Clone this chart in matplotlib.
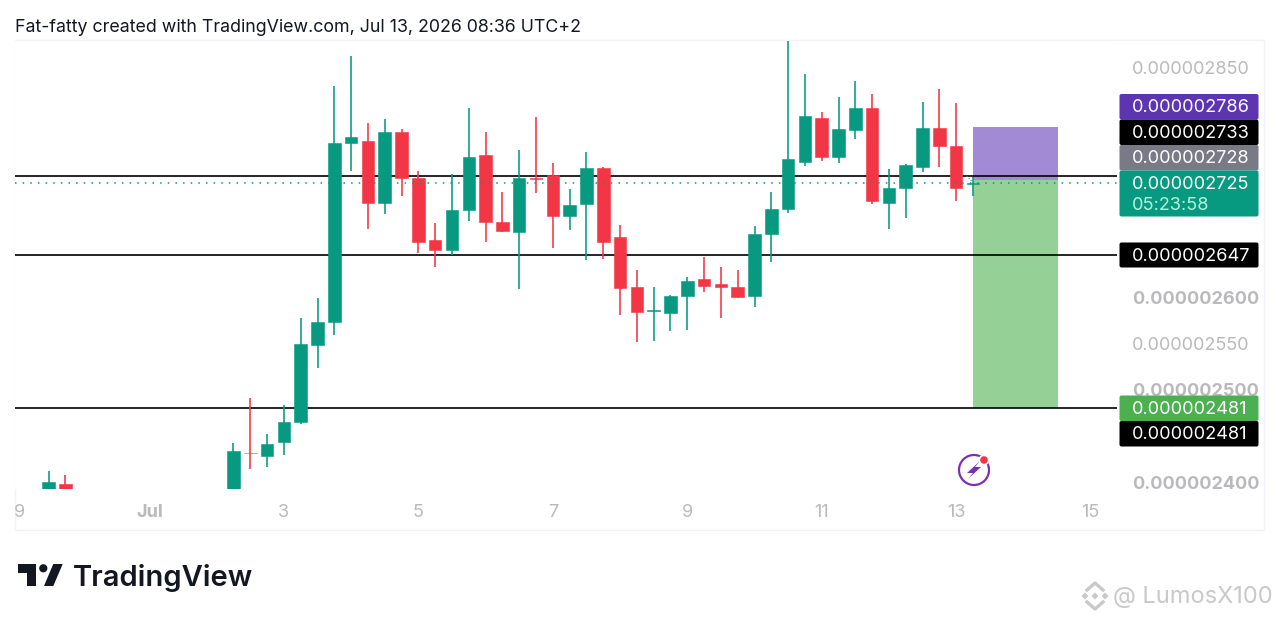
import matplotlib
matplotlib.use('Agg')
import matplotlib.pyplot as plt
import numpy as np
from matplotlib.patches import Rectangle, FancyBboxPatch, Circle, Polygon, Arc
from matplotlib.lines import Line2D
from matplotlib.transforms import Affine2D, Bbox

plt.rcParams['font.family'] = ['Inter', 'DejaVu Sans']

# prices are in units of 1e-9, candles are 6h so 4 per day
candle_index = [0, 1, 9] + list(range(11, 56))
opens = [2385.9, 2398.2, 2385.0, 2386.0, 2431.9, 2428.3, 2443.2, 2464.9, 2549.2, 2573.9, 2768.2, 2771.0,
         2703.6, 2780.5, 2730.8, 2662.7, 2652.2, 2696.0, 2755.4, 2683.0, 2671.8, 2730.0, 2734.0, 2689.1,
         2702.2, 2741.0, 2666.6, 2611.6, 2585.4, 2583.7, 2602.5, 2620.3, 2615.6, 2611.6, 2602.5, 2669.9,
         2697.1, 2748.2, 2796.0, 2752.9, 2783.0, 2806.9, 2703.6, 2719.9, 2742.7, 2785.1, 2765.2, 2723.8]
closes = [2400.3, 2385.9, 2388.0, 2434.0, 2431.1, 2441.3, 2464.9, 2550.3, 2573.9, 2768.8, 2774.7, 2703.3,
          2780.1, 2730.8, 2660.9, 2651.9, 2696.0, 2753.3, 2683.0, 2672.5, 2730.4, 2728.8, 2689.1, 2700.8,
          2741.0, 2660.9, 2610.9, 2584.8, 2586.4, 2602.5, 2618.8, 2613.4, 2611.6, 2601.4, 2669.9, 2697.1,
          2750.8, 2798.2, 2752.9, 2784.0, 2806.9, 2705.8, 2719.9, 2744.9, 2785.1, 2765.2, 2719.9, 2725.0]
highs = [2412.3, 2407.3, 2392.8, 2442.4, 2491.0, 2452.2, 2483.4, 2578.6, 2600.3, 2830.5, 2862.7, 2789.9,
         2794.9, 2783.4, 2737.7, 2681.9, 2735.1, 2806.2, 2780.1, 2714.9, 2761.2, 2797.1, 2747.1, 2718.8,
         2759.0, 2742.1, 2679.7, 2630.8, 2611.6, 2603.6, 2622.5, 2644.2, 2633.7, 2630.8, 2678.3, 2714.9,
         2885.0, 2843.5, 2801.9, 2818.5, 2835.6, 2822.1, 2739.9, 2746.0, 2813.4, 2826.9, 2811.6, 2731.9]
lows = [2380.0, 2380.0, 2380.0, 2380.0, 2414.5, 2416.6, 2429.7, 2463.4, 2524.2, 2560.1, 2738.4, 2675.3,
        2691.6, 2711.2, 2649.3, 2633.4, 2646.4, 2683.7, 2661.2, 2672.2, 2610.1, 2714.5, 2654.4, 2673.9,
        2641.3, 2642.1, 2581.2, 2552.2, 2552.9, 2564.1, 2564.9, 2606.2, 2577.9, 2600.3, 2589.9, 2639.5,
        2692.1, 2743.2, 2748.6, 2746.4, 2772.5, 2702.5, 2675.3, 2687.3, 2736.6, 2742.7, 2705.1, 2711.2]

level_lines = [2733, 2647, 2480.6]
last_price = 2725
box_top = 2786
box_mid = 2728
box_stop = 2480.6
box_days = [13.245, 14.52]

x_tick_days = [-1, 1, 3, 5, 7, 9, 11, 13, 15]
x_tick_labels = ['29', 'Jul', '3', '5', '7', '9', '11', '13', '15']
y_ticks = [2400, 2500, 2550, 2600, 2850]
y_bold = [2400, 2500, 2600]

tag_labels = ['0.000002786', '0.000002733', '0.000002728', '0.000002725', '0.000002647', '0.000002481', '0.000002481']
tag_colors = ['#5E35B1', '#000000', '#787B86', '#089981', '#000000', '#4CAF50', '#000000']
tag_tops = [94, 119.5, 145, 170.5, 242.5, 395.5, 421]
tag_bottoms = [119.5, 145, 170.5, 216.5, 267.5, 421, 446.5]
countdown = '05:23:58'

GREEN = '#089981'
RED = '#F23645'
GREY = '#BABABD'

fig = plt.figure(figsize=(12.8, 6.21), dpi=100)
ax = fig.add_axes([15 / 1280, 1 - 489 / 621, 1102 / 1280, 448 / 621])

# overlay coords: image pixels, y going down
px = Affine2D().scale(1, -1).translate(0, 621)

days = 3 + (np.array(candle_index) - 14) * 0.25
opens = np.array(opens)
closes = np.array(closes)
colors = [GREEN if c >= o else RED for o, c in zip(opens, closes)]

ax.add_patch(Rectangle((box_days[0], box_mid), box_days[1] - box_days[0], box_top - box_mid,
                       fc='#A28AD4', ec='none', zorder=1))
ax.add_patch(Rectangle((box_days[0], box_stop), box_days[1] - box_days[0], box_mid - box_stop,
                       fc='#95D196', ec='none', zorder=1))

for lv in level_lines:
    ax.axhline(lv, color='black', lw=1.2, zorder=2)

ax.vlines(days, lows, highs, colors=colors, lw=1.15, zorder=3)
ax.bar(days, np.abs(closes - opens), bottom=np.minimum(opens, closes), width=0.187,
       color=colors, edgecolor=colors, lw=0.4, zorder=3)

ax.axhline(last_price, color=GREEN, lw=1.1, ls=(0, (1, 4)), zorder=4)

ax.set_xlim(-0.983, 15.392)
ax.set_ylim(2392.4, 2879.3)
for s in ax.spines.values():
    s.set_visible(False)

ax.set_xticks(x_tick_days)
ax.set_xticklabels(x_tick_labels)
ax.tick_params(axis='x', length=0, pad=11, labelsize=13, labelcolor=GREY)
frame_box = Bbox([[15, 0], [1280, 621]])
for lab in ax.get_xticklabels():
    lab.set_clip_on(True)
    lab.set_clip_box(frame_box)
for i, lab in enumerate(ax.get_xticklabels()):
    if x_tick_labels[i] == 'Jul':
        lab.set_fontweight('bold')

ax.yaxis.tick_right()
ax.set_yticks(y_ticks)
ax.set_yticklabels(['%.9f' % (v * 1e-9) for v in y_ticks])
ax.tick_params(axis='y', length=0, pad=11, labelsize=13, labelcolor=GREY)
for v, lab in zip(y_ticks, ax.get_yticklabels()):
    if v in y_bold:
        lab.set_fontweight('bold')

# outer frame
fig.add_artist(Rectangle((15, 40), 1249, 490, fill=False, ec='#F0F3FA', lw=1, transform=px, zorder=-1))

# price tags
for name, col, top, bot in zip(tag_labels, tag_colors, tag_tops, tag_bottoms):
    fig.add_artist(FancyBboxPatch((1119.5, top), 139, bot - top, boxstyle='round,pad=0,rounding_size=2',
                                  fc=col, ec='none', transform=px, zorder=5))
    fig.text(1132, top + 13.8, name, color='white', fontsize=13.1, va='center', ha='left', transform=px, zorder=6)
fig.text(1132, 205, countdown, color='#B5F2DE', fontsize=13.1, va='center', ha='left', transform=px, zorder=6)

# small arrow to the last candle
fig.add_artist(Line2D([966.7, 973], [176, 182.7], color='#787B86', lw=0.8, ls=':', transform=px, zorder=4))

# lightning icon
fig.add_artist(Arc((974, 470), 30, 30, theta1=0, theta2=360, ec='#7B2FB5', lw=1.6, transform=px, zorder=6))
fig.add_artist(Polygon([[980, 461], [967, 473], [973, 473], [968, 479], [981, 467], [975, 467]], closed=True,
                       fc='#7B2FB5', ec='none', transform=px, zorder=6))
fig.add_artist(Circle((984, 460), 5.5, fc='white', ec='none', transform=px, zorder=6))
fig.add_artist(Circle((984, 460), 3.8, fc=RED, ec='none', transform=px, zorder=7))

fig.text(15, 28, 'Fat-fatty created with TradingView.com, Jul 13, 2026 08:36 UTC+2', fontsize=12.82,
         color='#131722', va='center', ha='left', transform=px)

# TradingView logo
LOGO = '#131722'
fig.add_artist(Polygon([[18.3, 564], [36, 564], [36, 586], [26.7, 586], [26.7, 572.7], [18.3, 572.7]],
                       fc=LOGO, ec='none', transform=px))
fig.add_artist(Circle((43.3, 568.3), 4.1, fc=LOGO, ec='none', transform=px))
fig.add_artist(Polygon([[53.3, 564], [62.7, 564], [53.3, 586], [44, 586]], fc=LOGO, ec='none', transform=px))
fig.text(73, 578, 'TradingView', fontsize=21, fontweight='semibold', color=LOGO, va='center', ha='left', transform=px)

# watermark
WM = '#C9C9C9'
for cx, cy, r in [(1095, 596, 3.5), (1085, 596, 3.5), (1105, 596, 3.5)]:
    fig.add_artist(Polygon([[cx - r, cy], [cx, cy - r], [cx + r, cy], [cx, cy + r]], fc=WM, ec='none', transform=px))
fig.add_artist(Line2D([1087, 1095, 1103], [590, 583, 590], color=WM, lw=2.4, transform=px))
fig.add_artist(Line2D([1087, 1095, 1103], [602, 609, 602], color=WM, lw=2.4, transform=px))
fig.text(1113, 597, '@ LumosX100', fontsize=17, color=WM, va='center', ha='left', transform=px)

plt.savefig('out.png', dpi=100)
